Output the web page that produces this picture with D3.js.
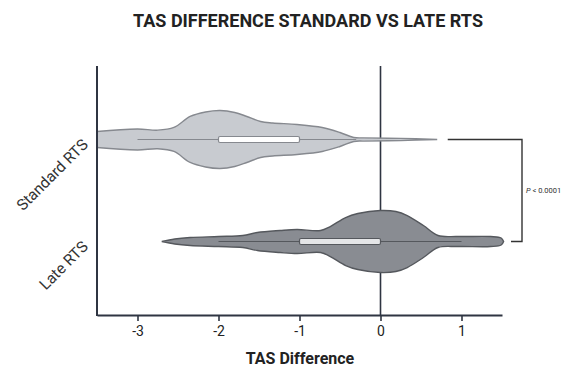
<!DOCTYPE html>
<meta charset="utf-8">
<script src="https://d3js.org/d3.v7.min.js"></script>
<style>
  body { margin: 0; background: #fff; }
  text { font-family: Roboto, "Noto Sans", sans-serif; }
</style>
<div id="chart"></div>
<script>
  // groups
  var groups = ["Standard RTS", "Late RTS"];

  // density profile of each group (x value, relative density)
  var stdX    = [-3.6, -3.5, -3.0, -2.75, -2.55, -2.35, -2.16, -1.98, -1.8, -1.65, -1.48, -1.33, -1.03, -0.72, -0.5, -0.33, -0.2, 0.25, 0.7];
  var stdDens = [7, 8, 10.5, 9.3, 12, 23, 27.5, 29, 27, 23, 18, 16.5, 15, 12, 7, 2, 1.6, 1.1, 0];
  var lateX    = [-2.7, -2.54, -2.35, -2.0, -1.7, -1.52, -1.24, -1.03, -0.74, -0.62, -0.43, -0.28, 0, 0.19, 0.33, 0.53, 0.71, 0.95, 1.36, 1.49, 1.52];
  var lateDens = [0, 2.5, 4, 5, 6, 9, 11, 12, 11, 15, 24, 28, 31, 30, 26, 16, 6, 5, 5, 3.5, 0];

  // box stats: q1, q3, whisker low, whisker high
  var boxQ1 = [-2.0, -1.0];
  var boxQ3 = [-1.0, 0.0];
  var whiskLo = [-3.0, -2.0];
  var whiskHi = [-0.3, 1.0];

  var xTicks = [-3, -2, -1, 0, 1];
  var pLabel = "< 0.0001";

  var width = 563, height = 367;
  var mLeft = 97, mRight = 502, mTop = 66, mBottom = 315;

  var svg = d3.select("#chart").append("svg")
    .attr("width", width)
    .attr("height", height);

  var x = d3.scaleLinear().domain([-3.5, 1.5]).range([mLeft, mRight]);
  var y = d3.scalePoint().domain(groups).range([mTop, mBottom]).padding(0.72);
  var w = d3.scaleLinear().domain([0, 31]).range([0, 31]);

  var axisColor = "#2f3542";

  svg.append("clipPath").attr("id", "plot")
    .append("rect")
    .attr("x", mLeft).attr("y", mTop - 10)
    .attr("width", mRight - mLeft + 10).attr("height", mBottom - mTop + 10);

  // reference line at zero
  svg.append("line")
    .attr("x1", x(0)).attr("x2", x(0))
    .attr("y1", mTop).attr("y2", mBottom)
    .attr("stroke", axisColor)
    .attr("stroke-width", 1.6);

  var violins = [
    { name: groups[0], xs: stdX, ds: stdDens, fill: "#c8cbd0", stroke: "#86898f" },
    { name: groups[1], xs: lateX, ds: lateDens, fill: "#898c92", stroke: "#55585d" }
  ];

  var area = d3.area()
    .curve(d3.curveCatmullRom.alpha(0.5));

  violins.forEach(function (v, i) {
    var cy = y(v.name);
    var pts = v.xs.map(function (d, j) { return [d, v.ds[j]]; });
    area.x(function (d) { return x(d[0]); })
      .y0(function (d) { return cy + w(d[1]); })
      .y1(function (d) { return cy - w(d[1]); });

    svg.append("path")
      .attr("clip-path", "url(#plot)")
      .attr("d", area(pts))
      .attr("fill", v.fill)
      .attr("stroke", v.stroke)
      .attr("stroke-width", 1.4);

    // whisker line
    svg.append("line")
      .attr("x1", x(whiskLo[i])).attr("x2", x(whiskHi[i]))
      .attr("y1", cy).attr("y2", cy)
      .attr("stroke", v.stroke)
      .attr("stroke-width", 1.2);

    // box
    svg.append("rect")
      .attr("x", x(boxQ1[i]))
      .attr("y", cy - 3)
      .attr("width", x(boxQ3[i]) - x(boxQ1[i]))
      .attr("height", 6)
      .attr("rx", 1.5)
      .attr("fill", i === 0 ? "#ffffff" : "#e4e5e7")
      .attr("stroke", v.stroke)
      .attr("stroke-width", 1.2);
  });

  // axes
  svg.append("line")
    .attr("x1", mLeft).attr("x2", mLeft)
    .attr("y1", mTop).attr("y2", mBottom + 1)
    .attr("stroke", axisColor).attr("stroke-width", 2);

  var xAxis = svg.append("g")
    .attr("transform", "translate(0," + mBottom + ")")
    .call(d3.axisBottom(x).tickValues(xTicks).tickSize(6).tickPadding(5).tickSizeOuter(0));
  xAxis.attr("font-family", null).attr("font-size", null);
  xAxis.select(".domain").attr("stroke", axisColor).attr("stroke-width", 2);
  xAxis.selectAll(".tick line").attr("stroke", axisColor).attr("stroke-width", 1.6);
  xAxis.selectAll(".tick text")
    .attr("fill", "#222")
    .style("font-size", "14px")
    .text(function (d) { return d < 0 ? "-" + Math.abs(d) : d; });

  // group labels
  svg.selectAll(".glabel")
    .data(groups)
    .enter()
    .append("text")
    .attr("transform", function (d) { return "translate(89," + (y(d) + 6) + ") rotate(-45)"; })
    .attr("text-anchor", "end")
    .attr("fill", "#333")
    .style("font-size", "15.5px")
    .text(function (d) { return d; });

  // significance bracket
  var y0 = y(groups[0]), y1 = y(groups[1]);
  svg.append("path")
    .attr("d", "M" + x(0.83) + "," + y0 + "H522V" + y1 + "H511")
    .attr("fill", "none")
    .attr("stroke", "#333")
    .attr("stroke-width", 1.4);

  var pt = svg.append("text")
    .attr("x", 526).attr("y", (y0 + y1) / 2 + 2)
    .attr("fill", "#333")
    .style("font-size", "7.5px");
  pt.append("tspan").style("font-style", "italic").text("P");
  pt.append("tspan").text(" " + pLabel);

  // titles
  svg.append("text")
    .attr("x", 308).attr("y", 27)
    .attr("text-anchor", "middle")
    .attr("fill", "#222")
    .style("font-size", "18px")
    .style("font-weight", "bold")
    .text("TAS DIFFERENCE STANDARD VS LATE RTS");

  svg.append("text")
    .attr("x", 300).attr("y", 364)
    .attr("text-anchor", "middle")
    .attr("fill", "#222")
    .style("font-size", "16px")
    .style("font-weight", "bold")
    .text("TAS Difference");
</script>
